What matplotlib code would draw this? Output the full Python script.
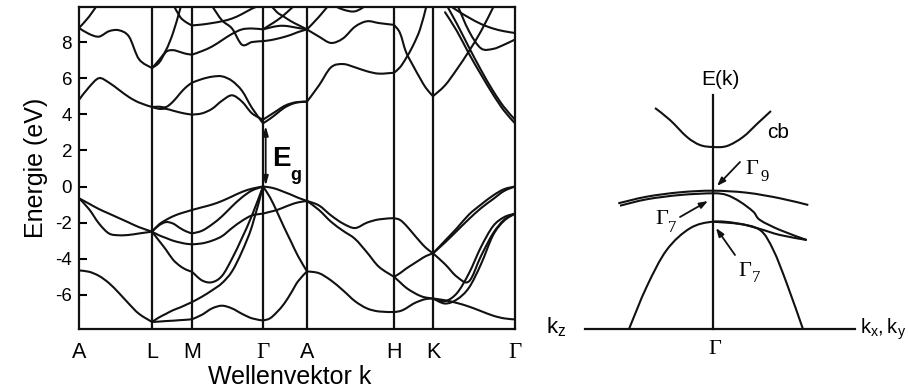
import numpy as np
import matplotlib
matplotlib.use("Agg")
import matplotlib.pyplot as plt
from matplotlib.path import Path
from matplotlib.patches import PathPatch

plt.rcParams["font.family"] = ["Liberation Sans", "DejaVu Sans"]
plt.rcParams["mathtext.fontset"] = "custom"
plt.rcParams["mathtext.rm"] = "Liberation Sans"
plt.rcParams["mathtext.it"] = "Liberation Sans:italic"

nan = np.nan

# ---- band structure along the high-symmetry path ----
kpoint_labels = ["A", "L", "M", "Γ", "A", "H", "K", "Γ"]
kpoint_pos = [0, 73, 113, 184, 228, 315, 354, 436]

k_AL = [0, 10, 20, 30, 40, 50, 60, 73]
bands_AL = [
    [-0.65, -0.95, -1.25, -1.5, -1.75, -2.0, -2.25, -2.5],
    [-0.65, -1.25, -2.05, -2.6, -2.7, -2.68, -2.6, -2.5],
    [-4.65, -4.72, -4.95, -5.35, -5.9, -6.5, -7.05, -7.5],
    [4.8, 5.5, 6.0, 5.75, 5.35, 4.95, 4.65, 4.4],
    [8.78, 8.45, 8.3, 8.6, 8.65, 8.3, 7.05, 6.56],
    [8.78, 9.4, 10.2, nan, nan, nan, nan, nan],
]

k_LM = [73, 80, 87, 94, 101, 107, 113]
bands_LM = [
    [-2.5, -2.1, -1.85, -1.65, -1.5, -1.4, -1.3],
    [-2.5, -2.15, -1.97, -2.05, -2.3, -2.48, -2.6],
    [-2.5, -2.7, -2.85, -3.0, -3.1, -3.17, -3.2],
    [-2.5, -3.0, -3.5, -4.05, -4.4, -4.6, -4.72],
    [-7.5, -7.25, -7.05, -6.85, -6.7, -6.55, -6.4],
    [-7.5, -7.48, -7.45, -7.43, -7.4, -7.38, -7.35],
    [4.4, 4.3, 4.3, 4.2, 4.1, 4.03, 3.98],
    [4.4, 4.42, 4.4, 4.7, 5.15, 5.5, 5.75],
    [6.56, 7.0, 7.55, 8.5, 9.8, 11.0, nan],
    [6.56, 6.85, 7.45, 7.55, 7.45, 7.35, 7.3],
    [nan, nan, nan, 10.1, 9.4, 9.1, 8.92],
]

k_MG = [113, 123, 133, 143, 153, 163, 173, 184]
bands_MG = [
    [-1.3, -1.15, -1.0, -0.8, -0.55, -0.3, -0.12, 0.0],
    [-2.6, -2.45, -2.1, -1.65, -1.1, -0.6, -0.22, 0.0],
    [-3.2, -3.15, -3.0, -2.75, -2.3, -1.9, -1.6, -1.5],
    [-4.72, -5.2, -5.3, -4.95, -4.0, -2.85, -1.6, 0.0],
    [-6.4, -6.1, -5.75, -5.35, -4.7, -3.6, -2.2, 0.0],
    [-7.35, -7.1, -6.75, -6.6, -6.75, -7.05, -7.3, -7.42],
    [3.98, 4.05, 4.3, 4.75, 5.05, 4.7, 4.05, 3.7],
    [5.75, 5.95, 6.08, 6.1, 5.85, 5.3, 4.35, 3.5],
    [7.3, 7.5, 7.75, 8.1, 8.45, 8.7, 8.75, 8.7],
    [8.92, 8.97, 9.05, 9.15, 9.3, 9.55, 9.85, 10.1],
    [nan, nan, 10.0, 9.2, 8.75, 7.85, 8.0, 8.05],
]

k_GA = [184, 191, 198, 205, 212, 219, 228]
bands_GA = [
    [0.0, -0.05, -0.15, -0.3, -0.45, -0.62, -0.8],
    [-1.5, -1.4, -1.3, -1.15, -1.0, -0.88, -0.8],
    [0.0, -0.6, -1.4, -2.25, -3.05, -3.85, -4.7],
    [-7.42, -7.3, -6.95, -6.5, -5.9, -5.25, -4.7],
    [3.5, 3.75, 4.05, 4.35, 4.55, 4.66, 4.7],
    [3.7, 3.95, 4.2, 4.45, 4.6, 4.68, 4.7],
    [8.05, 8.1, 8.18, 8.28, 8.4, 8.55, 8.7],
    [8.7, 8.95, 9.2, 9.5, 9.85, 10.2, nan],
    [8.7, 8.8, 8.88, 8.9, 8.85, 8.78, 8.7],
    [nan, 10.1, 9.65, 9.4, 9.15, 8.95, 8.7],
]

k_AH = [228, 240, 252, 264, 276, 288, 300, 315]
bands_AH = [
    [-0.8, -1.05, -1.6, -2.05, -2.3, -2.0, -1.82, -1.75],
    [-0.8, -1.3, -1.95, -2.45, -2.9, -3.65, -4.45, -5.0],
    [-4.7, -4.8, -5.2, -5.75, -6.35, -6.75, -6.92, -6.95],
    [4.7, 5.6, 6.6, 6.78, 6.6, 6.38, 6.25, 6.3],
    [8.7, 8.3, 7.95, 8.2, 8.85, 9.15, 9.05, 8.95],
    [8.7, 9.4, 10.2, nan, nan, nan, nan, nan],
    [nan, nan, 10.1, 9.8, 9.7, 10.05, nan, nan],
]

k_HK = [315, 321, 327, 334, 341, 347, 354]
bands_HK = [
    [-1.75, -1.85, -2.15, -2.6, -3.05, -3.4, -3.7],
    [-5.0, -4.8, -4.55, -4.3, -4.05, -3.85, -3.7],
    [-5.0, -5.3, -5.6, -5.85, -6.05, -6.15, -6.2],
    [-6.95, -6.9, -6.75, -6.5, -6.33, -6.23, -6.2],
    [8.95, 8.5, 7.45, 6.7, 6.0, 5.45, 5.0],
    [6.3, 6.6, 7.1, 7.8, 8.7, 9.9, nan],
]

k_KG = [354, 366, 378, 390, 402, 414, 425, 436]
bands_KG = [
    [-3.7, -3.0, -2.3, -1.55, -1.0, -0.5, -0.15, 0.0],
    [-3.7, -3.1, -2.45, -1.8, -1.2, -0.7, -0.25, 0.0],
    [-3.7, -4.3, -5.0, -5.25, -3.85, -2.6, -1.85, -1.5],
    [-6.2, -6.48, -6.25, -5.6, -4.3, -2.7, -1.9, -1.5],
    [-6.2, -6.35, -5.9, -4.8, -3.35, -2.2, -1.7, -1.5],
    [-6.2, -6.3, -6.45, -6.65, -6.9, -7.15, -7.3, -7.36],
    [5.0, 5.6, 6.5, 7.5, 8.6, 9.9, nan, nan],
    [nan, nan, 10.1, 8.6, 7.65, 7.62, 7.85, 8.14],
    [nan, 10.2, 9.75, 9.35, 9.0, 8.75, 8.6, 8.5],
    [nan, 9.65, 8.6, 7.35, 6.2, 5.1, 4.2, 3.5],
    [nan, 10.2, 9.0, 7.7, 6.45, 5.3, 4.4, 3.7],
]

segments = [
    (k_AL, bands_AL), (k_LM, bands_LM), (k_MG, bands_MG), (k_GA, bands_GA),
    (k_AH, bands_AH), (k_HK, bands_HK), (k_KG, bands_KG),
]

gap_bottom, gap_top = 0.05, 3.35
energy_ticks = [-6, -4, -2, 0, 2, 4, 6, 8]

# ---- schematic band edges near Gamma ----
cb_k = [-0.58, -0.43, -0.26, -0.13, 0.0, 0.14, 0.30, 0.45, 0.58]
cb_e = [2.21, 2.09, 1.92, 1.84, 1.82, 1.83, 1.92, 2.06, 2.18]
g9_k = [-0.947, -0.663, -0.33, 0.0, 0.337, 0.67, 0.953]
g9_e = [1.257, 1.323, 1.367, 1.383, 1.363, 1.307, 1.24]
g7u_k = [-0.93, -0.663, -0.33, 0.0, 0.137, 0.27, 0.403, 0.47, 0.67, 0.937]
g7u_e = [1.233, 1.297, 1.34, 1.357, 1.34, 1.273, 1.173, 1.09, 0.99, 0.89]
g7l_k = [-0.837, -0.663, -0.463, -0.23, 0.0, 0.237, 0.47, 0.603, 0.737, 0.897]
g7l_e = [0.007, 0.423, 0.79, 1.007, 1.073, 1.057, 0.99, 0.79, 0.457, 0.007]
g7b_k = [0.0, 0.27, 0.47, 0.67, 0.937]
g7b_e = [1.073, 1.05, 1.0, 0.94, 0.89]


def smooth_patch(xs, ys, **kw):
    """Catmull-Rom curve through the given points, drawn as cubic Bezier segments."""
    xs = np.asarray(xs, float)
    ys = np.asarray(ys, float)
    ok = ~np.isnan(ys)
    pts = np.column_stack([xs[ok], ys[ok]])
    verts = [pts[0]]
    codes = [Path.MOVETO]
    n = len(pts)
    for i in range(n - 1):
        p0 = pts[i - 1] if i > 0 else pts[i]
        p1 = pts[i]
        p2 = pts[i + 1]
        p3 = pts[i + 2] if i + 2 < n else pts[i + 1]
        verts += [p1 + (p2 - p0) / 6.0, p2 - (p3 - p1) / 6.0, p2]
        codes += [Path.CURVE4] * 3
    return PathPatch(Path(verts, codes), fill=False, **kw)


LC = "#111111"
fig = plt.figure(figsize=(9.08, 3.92), dpi=100)

# ---------------- left: full band structure ----------------
ax = fig.add_axes([79 / 908, 63 / 392, 436 / 908, 322 / 392])
for kk, bands in segments:
    for e in bands:
        ax.add_patch(smooth_patch(kk, e, lw=1.5, ec=LC, capstyle="round",
                                  joinstyle="round"))
for p in kpoint_pos[1:-1]:
    ax.axvline(p, color=LC, lw=1.6)

ax.set_xlim(kpoint_pos[0], kpoint_pos[-1])
ax.set_ylim(-7.89, 9.94)
ax.set_yticks(energy_ticks)
ax.set_yticklabels([str(t) for t in energy_ticks], fontsize=13.5)
ax.tick_params(axis="y", direction="in", length=5.5, width=1.5, pad=5)
ax.set_xticks(kpoint_pos)
ax.set_xticklabels(kpoint_labels, fontsize=15.5)
ax.tick_params(axis="x", length=0, pad=9)
for lab in ax.get_xticklabels():
    if lab.get_text() == "Γ":
        lab.set_fontfamily("Liberation Serif")
        lab.set_fontsize(16.5)
for s in ax.spines.values():
    s.set_linewidth(1.6)
    s.set_color(LC)

ax.set_ylabel("Energie (eV)", fontsize=18, labelpad=5)
fig.text(290 / 908, 1 - 377 / 392, "Wellenvektor k", fontsize=18,
         ha="center", va="center")

ax.annotate("", xy=(186.7, gap_bottom), xytext=(186.7, gap_top),
            arrowprops=dict(arrowstyle="<|-|>,head_length=0.55,head_width=0.16",
                            color=LC, lw=1.3, shrinkA=0, shrinkB=0))
ax.text(193, 1.55, "E", fontsize=20, fontweight="bold", ha="left", va="center")
ax.text(211, 0.6, "g", fontsize=13, fontweight="bold", ha="left", va="center")

# ---------------- right: schematic near Gamma ----------------
ax2 = fig.add_axes([540 / 908, 0, 368 / 908, 1])
ax2.set_xlim(-1.73, 1.95)
ax2.set_ylim(-0.63, 3.29)
ax2.axis("off")

ax2.plot([-1.28, 1.42], [0, 0], color=LC, lw=1.6)
ax2.plot([0, 0], [0, 2.34], color=LC, lw=1.6)
for kk, ee in [(cb_k, cb_e), (g9_k, g9_e), (g7u_k, g7u_e), (g7l_k, g7l_e),
               (g7b_k, g7b_e)]:
    ax2.add_patch(smooth_patch(kk, ee, lw=1.5, ec=LC))

ax2.text(0.07, 2.49, "E(k)", fontsize=15, ha="center", va="center")
ax2.text(0.65, 1.96, "cb", fontsize=15, ha="center", va="center")

serif = "Liberation Serif"
ax2.text(0.385, 1.595, "Γ", fontsize=16, family=serif, ha="center", va="center")
ax2.text(0.52, 1.52, "9", fontsize=12, family=serif, ha="center", va="center")
ax2.text(-0.515, 1.09, "Γ", fontsize=16, family=serif, ha="center", va="center")
ax2.text(-0.405, 1.005, "7", fontsize=12, family=serif, ha="center", va="center")
ax2.text(0.32, 0.575, "Γ", fontsize=16, family=serif, ha="center", va="center")
ax2.text(0.43, 0.505, "7", fontsize=12, family=serif, ha="center", va="center")
ax2.text(0.02, -0.2, "Γ", fontsize=16, family=serif, ha="center", va="center")

ax2.text(-1.57, 0.02, r"$\mathrm{k_z}$", fontsize=16, ha="center", va="center")
ax2.text(1.47, 0.0, r"$\mathrm{k_x,k_y}$", fontsize=14.5, ha="left", va="center")

arrow_kw = dict(arrowstyle="-|>,head_length=0.5,head_width=0.18", color=LC,
                lw=1.3, shrinkA=0, shrinkB=0)
ax2.annotate("", xy=(0.04, 1.43), xytext=(0.27, 1.67), arrowprops=arrow_kw)
ax2.annotate("", xy=(-0.05, 1.28), xytext=(-0.33, 1.12), arrowprops=arrow_kw)
ax2.annotate("", xy=(0.03, 1.01), xytext=(0.22, 0.74), arrowprops=arrow_kw)

fig.savefig("out.png", dpi=100)
